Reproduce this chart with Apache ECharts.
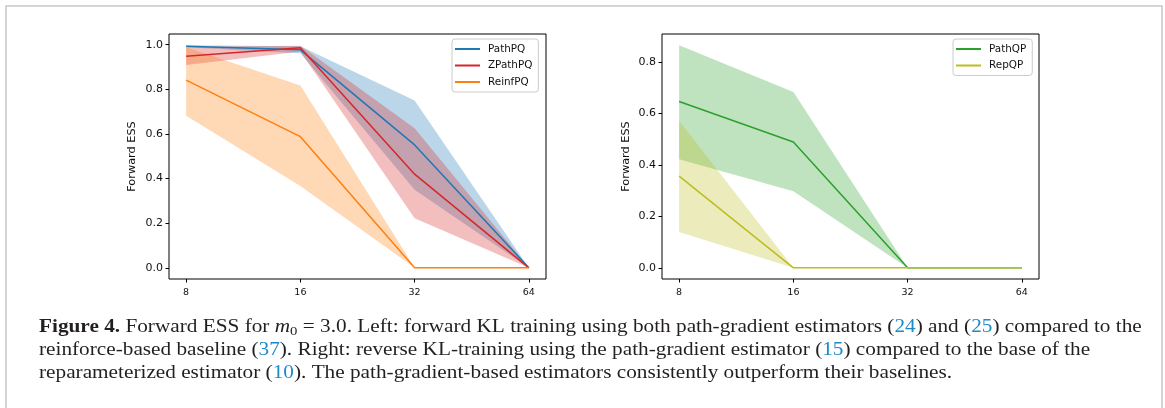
<!DOCTYPE html>
<html>
<head>
<meta charset="utf-8">
<script src="https://cdn.jsdelivr.net/npm/echarts@6/dist/echarts.min.js"></script>
<style>
  html, body { margin: 0; padding: 0; background: #fff; }
  #chart { width: 1165px; height: 408px; }
</style>
</head>
<body>
<div id="chart"></div>
<script>
// Number of samples (log2 axis)
const sampleSizes = [8, 16, 32, 64];
const xTickLabels = ['8', '16', '32', '64'];
const leftYTicks = [0, 0.2, 0.4, 0.6, 0.8, 1.0];
const rightYTicks = [0, 0.2, 0.4, 0.6, 0.8];

// Left panel: forward KL training
const pathPQ      = [0.993, 0.977, 0.551, 0.0];
const pathPQLow   = [0.988, 0.962, 0.350, 0.0];
const pathPQHigh  = [0.998, 0.993, 0.750, 0.0];
const zPathPQ     = [0.948, 0.986, 0.420, 0.0];
const zPathPQLow  = [0.909, 0.970, 0.222, 0.0];
const zPathPQHigh = [0.990, 0.995, 0.626, 0.0];
const reinfPQ     = [0.841, 0.588, 0.0, 0.0];
const reinfPQLow  = [0.682, 0.367, 0.0, 0.0];
const reinfPQHigh = [0.988, 0.817, 0.0, 0.0];

// Right panel: reverse KL training
const pathQP      = [0.646, 0.489, 0.0, 0.0];
const pathQPLow   = [0.422, 0.298, 0.0, 0.0];
const pathQPHigh  = [0.865, 0.683, 0.0, 0.0];
const repQP       = [0.356, 0.0, 0.0, 0.0];
const repQPLow    = [0.139, 0.0, 0.0, 0.0];
const repQPHigh   = [0.571, 0.0, 0.0, 0.0];

const C = {
  blue: '#1f77b4', red: '#d62728', orange: '#ff7f0e',
  green: '#2ca02c', olive: '#bcbd22'
};

const xs = sampleSizes.map(v => Math.log2(v));
const xTickPos = xs.slice();

function withAlpha(hex, a) {
  const n = parseInt(hex.slice(1), 16);
  return `rgba(${(n >> 16) & 255},${(n >> 8) & 255},${n & 255},${a})`;
}

// padded limits, 5% of the data span on each side
function padded(lo, hi) {
  const m = (hi - lo) * 0.05;
  return [lo - m, hi + m];
}
const xLim = padded(Math.min(...xs), Math.max(...xs));
const leftYLim = padded(0, Math.max(...pathPQHigh, ...zPathPQHigh, ...reinfPQHigh));
const rightYLim = padded(0, Math.max(...pathQPHigh, ...repQPHigh));

const FONT = 'DejaVu Sans';
const TICK_FS_Y = 11;
const TICK_FS_X = 9.5;
const NAME_FS = 11.3;
const LEGEND_FS = 10.4;

function lineSeries(name, vals, color, idx) {
  return {
    type: 'line', name, xAxisIndex: idx, yAxisIndex: idx,
    data: xs.map((x, i) => [x, vals[i]]),
    symbol: 'none', lineStyle: { color, width: 1.5 }, itemStyle: { color },
    z: 5, silent: true
  };
}

function bandSeries(name, lo, hi, color, idx) {
  return {
    type: 'custom', name: name + ' band', xAxisIndex: idx, yAxisIndex: idx,
    data: xs.map((x, i) => [x, lo[i], hi[i]]),
    renderItem(params, api) {
      if (params.dataIndex !== 0) return;
      const n = params.dataInsideLength;
      const pts = [];
      for (let i = 0; i < n; i++) pts.push(api.coord([api.value(0, i), api.value(2, i)]));
      for (let i = n - 1; i >= 0; i--) pts.push(api.coord([api.value(0, i), api.value(1, i)]));
      return { type: 'polygon', shape: { points: pts }, style: { fill: withAlpha(color, 0.3), stroke: null } };
    },
    z: 2, silent: true
  };
}

function xAxis(idx) {
  return {
    type: 'value', gridIndex: idx, min: xLim[0], max: xLim[1],
    axisLine: { show: false, onZero: false },
    axisTick: { show: true, length: 3.5, lineStyle: { color: '#000', width: 1 }, customValues: xTickPos },
    axisLabel: { fontFamily: FONT, fontSize: TICK_FS_X, color: '#111', margin: 9,
      customValues: xTickPos,
      formatter: v => xTickLabels[xTickPos.findIndex(t => Math.abs(t - v) < 1e-6)] },
    splitLine: { show: false }
  };
}

function yAxis(idx, lim, ticks, gap) {
  return {
    type: 'value', gridIndex: idx, min: lim[0], max: lim[1],
    name: 'Forward ESS', nameLocation: 'middle', nameGap: gap,
    nameTextStyle: { fontFamily: FONT, fontSize: NAME_FS, color: '#111' },
    axisLine: { show: false, onZero: false },
    axisTick: { show: true, length: 3.5, lineStyle: { color: '#000', width: 1 }, customValues: ticks },
    axisLabel: { fontFamily: FONT, fontSize: TICK_FS_Y, color: '#111', margin: 6,
      customValues: ticks, formatter: v => v.toFixed(1) },
    splitLine: { show: false }
  };
}

function legend(names, left, top) {
  return {
    data: names, left, top, orient: 'vertical',
    icon: 'rect', itemWidth: 25, itemHeight: 2, itemGap: 4.5,
    padding: [4, 6, 4, 3],
    backgroundColor: 'rgba(255,255,255,0.8)', borderColor: '#cccccc', borderWidth: 1, borderRadius: 3,
    textStyle: { fontFamily: FONT, fontSize: LEGEND_FS, color: '#111', lineHeight: 12, padding: [0, 0, 0, 3] },
    selectedMode: false
  };
}

const SERIF = '"Liberation Serif", "DejaVu Serif", serif';
const CAP = 19.5;
const CAP_STRETCH = 1.09;
const INK = '#231f20';
const LINK = '#1f8ac8';
const capRich = {
  b: { fontFamily: SERIF, fontSize: CAP, fontWeight: 'bold', fill: INK, lineHeight: 23 },
  i: { fontFamily: SERIF, fontSize: CAP, fontStyle: 'italic', fill: INK, lineHeight: 23 },
  s: { fontFamily: SERIF, fontSize: 13.5, fill: INK, verticalAlign: 'bottom', lineHeight: 15 },
  l: { fontFamily: SERIF, fontSize: CAP, fill: LINK, lineHeight: 23 },
  t: { fontFamily: SERIF, fontSize: CAP, fill: INK, lineHeight: 23 }
};
const captionLines = [
  '{b|Figure 4.}{t| Forward ESS for }{i|m}{s|0}{t| = 3.0. Left: forward KL training using both path-gradient estimators (}{l|24}{t|) and (}{l|25}{t|) compared to the}',
  '{t|reinforce-based baseline (}{l|37}{t|). Right: reverse KL-training using the path-gradient estimator (}{l|15}{t|) compared to the base of the}',
  '{t|reparameterized estimator (}{l|10}{t|). The path-gradient-based estimators consistently outperform their baselines.}'
];
const captionY = [327, 350, 373];

const chart = echarts.init(document.getElementById('chart'), null, { renderer: 'canvas' });
chart.setOption({
  animation: false,
  backgroundColor: '#fff',
  grid: [
    { left: 169, top: 34, width: 377, height: 245, show: true, borderColor: '#000', borderWidth: 1, backgroundColor: 'transparent' },
    { left: 662, top: 34, width: 377, height: 245, show: true, borderColor: '#000', borderWidth: 1, backgroundColor: 'transparent' }
  ],
  xAxis: [xAxis(0), xAxis(1)],
  yAxis: [yAxis(0, leftYLim, leftYTicks, 31), yAxis(1, rightYLim, rightYTicks, 30)],
  legend: [
    legend(['PathPQ', 'ZPathPQ', 'ReinfPQ'], 452, 39),
    legend(['PathQP', 'RepQP'], 953, 39)
  ],
  series: [
    bandSeries('PathPQ', pathPQLow, pathPQHigh, C.blue, 0),
    bandSeries('ZPathPQ', zPathPQLow, zPathPQHigh, C.red, 0),
    bandSeries('ReinfPQ', reinfPQLow, reinfPQHigh, C.orange, 0),
    lineSeries('PathPQ', pathPQ, C.blue, 0),
    lineSeries('ZPathPQ', zPathPQ, C.red, 0),
    lineSeries('ReinfPQ', reinfPQ, C.orange, 0),
    bandSeries('PathQP', pathQPLow, pathQPHigh, C.green, 1),
    bandSeries('RepQP', repQPLow, repQPHigh, C.olive, 1),
    lineSeries('PathQP', pathQP, C.green, 1),
    lineSeries('RepQP', repQP, C.olive, 1)
  ],
  graphic: [
    { type: 'polyline', shape: { points: [[6, 408], [6, 6], [1162, 6], [1162, 408]] },
      style: { stroke: '#c8c8c8', lineWidth: 1.5, fill: null }, silent: true },
    ...captionLines.map((txt, i) => ({
      type: 'text', x: 39, y: captionY[i], scaleX: CAP_STRETCH, silent: true,
      style: { text: txt, rich: capRich, fill: INK, font: `${CAP}px ${SERIF}`, verticalAlign: 'middle' }
    }))
  ]
});
</script>
</body>
</html>
